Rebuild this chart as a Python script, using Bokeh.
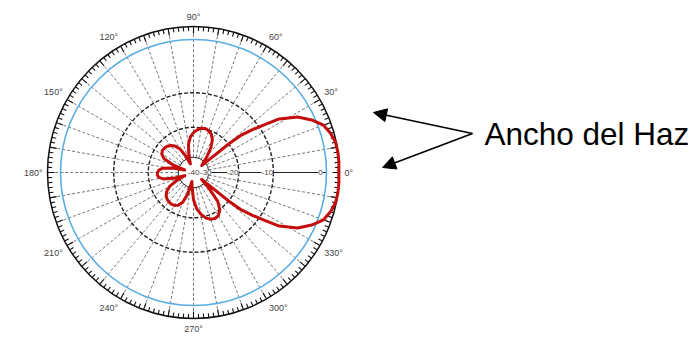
import numpy as np
from bokeh.plotting import figure
from bokeh.models import Range1d, ColumnDataSource, LabelSet, Arrow, NormalHead, Label
from bokeh.core.properties import value
from bokeh.embed import file_html
from bokeh.resources import INLINE

# ---------------- data ----------------
# radial scale (dB) and ring positions (fraction of 0 dB circle)
SCALE_DB = [-40, -30, -20, -10, 0, 3]
SCALE_FRAC = [0.0, 0.115, 0.34, 0.60, 1.0, 1.12]
RING_DB = [-30, -20, -10]
RADIAL_LABELS = ["-40", "-30", "-20", "-10", "0"]
RADIAL_LABEL_DB = [-36, -29, -20, -10, 0]
ANGLE_TICKS = [0, 30, 60, 90, 120, 150, 180, 210, 240, 270, 300, 330]
ANGLE_LABELS = ["0°", "30°", "60°", "90°", "120°", "150°", "180°", "210°", "240°", "270°", "300°", "330°"]

# radiation pattern (angle in degrees, level in dB)
PATTERN_DEG = [0, 4, 8, 12, 16, 20, 24, 28, 32, 34, 36, 38, 39, 40,
               45, 50, 55, 60, 65, 70, 75, 80, 85, 90, 95, 100, 105, 110,
               115, 120, 125, 130, 135, 140, 145, 150, 155, 160, 164,
               168, 172, 176, 180, 184, 188, 192, 196, 200,
               205, 210, 215, 220, 225, 230, 235, 240, 245, 250, 255, 260,
               265, 270, 275, 280, 285, 290, 295, 300, 305, 310, 315, 319,
               320, 321, 322, 324, 326, 328, 332, 336, 340, 344, 348, 352, 356, 360]
PATTERN_DB = [2.3, 2.4, 2.4, 2.3, 1.8, 1.0, -0.7, -2.8, -6.0, -9.0, -12.0, -15.5, -20.0, -33.0,
              -31.0, -28.0, -25.0, -22.5, -21.0, -20.3, -19.9, -20.1, -20.8, -21.8, -23.2, -25.5, -29.0, -34.0,
              -29.0, -26.0, -24.3, -23.3, -22.7, -22.4, -22.4, -22.9, -24.3, -28.0, -34.0,
              -28.0, -24.8, -23.5, -23.1, -23.0, -23.4, -24.8, -28.0, -34.0,
              -29.0, -26.0, -24.2, -23.2, -22.6, -22.3, -22.2, -22.4, -23.0, -24.5, -27.5, -34.0,
              -30.0, -26.0, -23.0, -21.0, -19.5, -18.7, -18.4, -18.7, -19.8, -22.5, -28.0, -33.0,
              -33.0, -20.0, -15.5, -12.0, -9.0, -6.0, -2.8, -0.7, 1.0, 1.8, 2.3, 2.4, 2.4, 2.3]

ANNOT_TEXT = "Ancho del Haz"

# ---------------- geometry / style ----------------
W, H = 697, 337
CX, CY = 193.0, 172.0
R0 = 133.0        # 0 dB circle radius (px)
R_OUT = 146.0     # outer degree ring
FONT = "Liberation Sans"


def r_of_db(db):
    return R0 * np.interp(np.asarray(db, dtype=float), SCALE_DB, SCALE_FRAC)


def pol(r, deg):
    t = np.radians(np.asarray(deg, dtype=float))
    return CX + r * np.cos(t), CY - r * np.sin(t)


p = figure(width=W, height=H, output_backend="svg", toolbar_location=None,
           x_range=Range1d(0, W), y_range=Range1d(H, 0),
           min_border=0, outline_line_color=None)
p.xaxis.visible = False
p.yaxis.visible = False
p.grid.visible = False
p.background_fill_color = "white"

# radial dashed spokes every 10 deg (except 0)
r_in = r_of_db(-30)
xs, ys = [], []
for a in range(10, 360, 10):
    x, y = pol(np.array([r_in, R_OUT - 2]), a)
    xs.append(list(x)); ys.append(list(y))
p.multi_line(xs, ys, line_color="#555555", line_width=0.8, line_dash="3 2")

# solid spoke at 0 deg
x, y = pol(np.array([r_in, R0]), 0)
p.line(x, y, line_color="#222222", line_width=1)

# rings
ring_r = r_of_db(RING_DB)
p.circle([CX], [CY], radius=ring_r[0], fill_color=None, line_color="#222222", line_width=1)
p.circle([CX] * 2, [CY] * 2, radius=list(ring_r[1:]), fill_color=None,
         line_color="#222222", line_width=1.4, line_dash="4 2")
p.circle([CX], [CY], radius=R0, fill_color=None, line_color="#58aee4", line_width=1.6)

# outer degree ring with inward ticks
p.circle([CX], [CY], radius=R_OUT, fill_color=None, line_color="#111111", line_width=1.5)
txs, tys = [], []
for a in range(0, 360, 2):
    ln = 7 if a % 10 == 0 else 4.5
    x, y = pol(np.array([R_OUT - ln, R_OUT]), a)
    txs.append(list(x)); tys.append(list(y))
p.multi_line(txs, tys, line_color="#111111", line_width=1.1)

# radiation pattern
px, py = pol(r_of_db(PATTERN_DB), PATTERN_DEG)
p.line(px, py, line_color="#c40d0d", line_width=3, line_join="round")

# radial labels along 0 deg
lx, ly = pol(r_of_db(RADIAL_LABEL_DB) - 6, 0)
src_r = ColumnDataSource(dict(x=lx, y=ly, t=RADIAL_LABELS))
p.add_layout(LabelSet(x="x", y="y", text="t", source=src_r, text_font=value(FONT),
                      text_font_size=value("8px"), text_color="#444444", text_align="center",
                      text_baseline="middle", background_fill_color="white",
                      background_fill_alpha=1.0))

# angle labels
RL = 151.0
for a, t in zip(ANGLE_TICKS, ANGLE_LABELS):
    x, y = pol(RL, a)
    c, s = np.cos(np.radians(a)), np.sin(np.radians(a))
    al = "left" if c > 0.2 else ("right" if c < -0.2 else "center")
    ab = "bottom" if s > 0.2 else ("top" if s < -0.2 else "middle")
    p.add_layout(Label(x=float(x), y=float(y), text=t, text_font=FONT, text_font_size="9px",
                       text_color="#444444", text_align=al, text_baseline=ab))

# annotation: arrows and text
VX, VY = 472, 133
for tx, ty in [(373, 112), (382, 167)]:
    p.add_layout(Arrow(x_start=VX, y_start=VY, x_end=tx, y_end=ty,
                       line_color="black", line_width=1.6,
                       end=NormalHead(size=13, fill_color="black", line_color="black")))
p.add_layout(Label(x=484, y=VY, text=ANNOT_TEXT, text_font=FONT, text_font_size="31.5px",
                   text_color="black", text_align="left", text_baseline="middle"))

open("out.html", "w").write(file_html(p, INLINE))
